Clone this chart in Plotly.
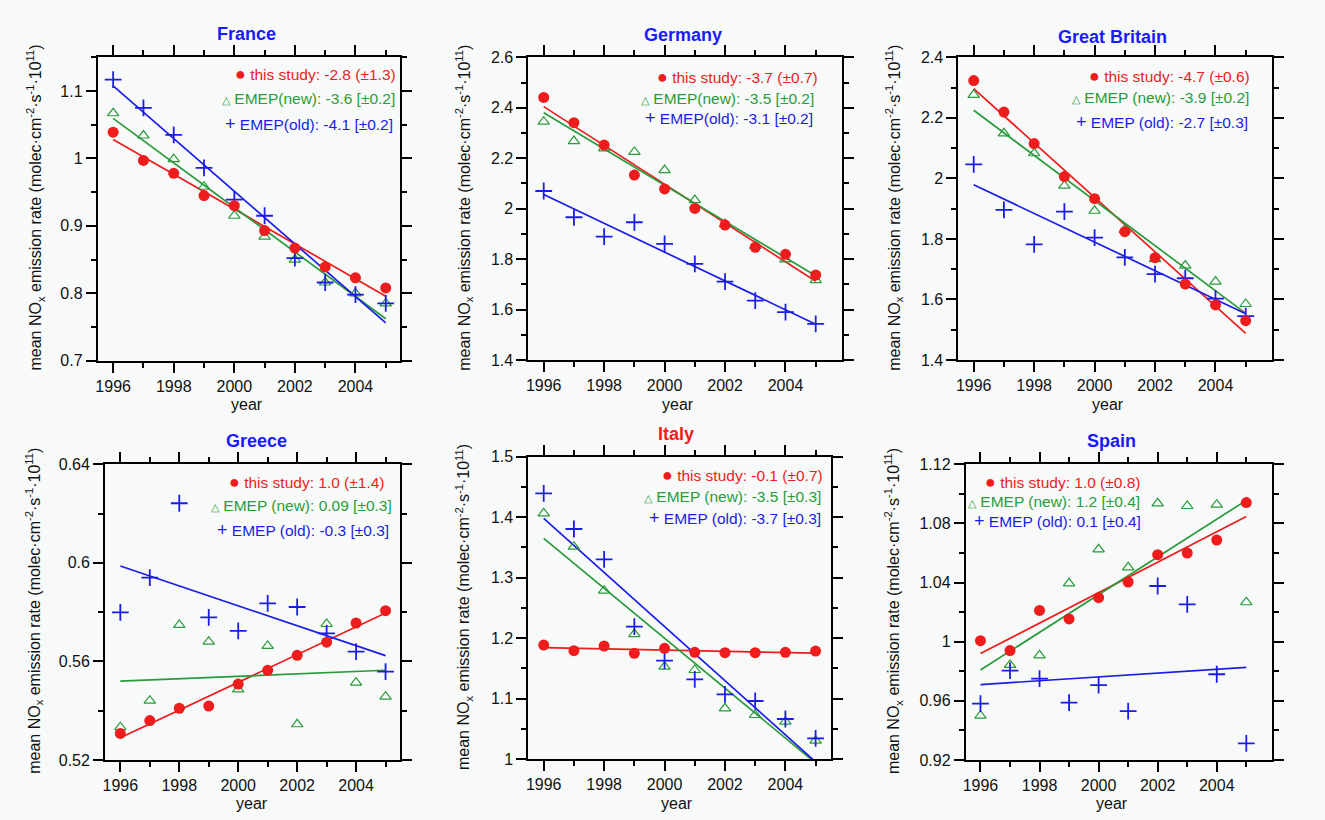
import numpy as np
import plotly.graph_objects as go

W, H = 1325, 820
years = list(range(1996, 2006))

# Mean NOx emission rates (molec cm-2 s-1 1e11), one list per data set
france_study = [1.039, 0.997, 0.978, 0.945, 0.930, 0.893, 0.867, 0.839, 0.823, 0.808]
france_emep_new = [1.067, 1.034, 0.999, 0.958, 0.915, 0.884, 0.850, 0.816, 0.800, 0.785]
france_emep_old = [1.117, 1.075, 1.035, 0.986, 0.939, 0.915, 0.852, 0.816, 0.798, 0.785]

germany_study = [2.441, 2.341, 2.252, 2.133, 2.078, 2.001, 1.935, 1.847, 1.819, 1.737]
germany_emep_new = [2.345, 2.268, 2.239, 2.225, 2.153, 2.034, 1.939, 1.852, 1.799, 1.717]
germany_emep_old = [2.070, 1.966, 1.889, 1.946, 1.860, 1.781, 1.711, 1.635, 1.590, 1.543]

britain_study = [2.323, 2.219, 2.115, 2.006, 1.933, 1.824, 1.738, 1.651, 1.582, 1.530]
britain_emep_new = [2.276, 2.149, 2.083, 1.976, 1.893, 1.830, 1.733, 1.712, 1.659, 1.585]
britain_emep_old = [2.046, 1.896, 1.782, 1.890, 1.804, 1.739, 1.684, 1.670, 1.603, 1.545]

greece_study = [0.5308, 0.5360, 0.5410, 0.5419, 0.5508, 0.5564, 0.5625, 0.5678, 0.5756, 0.5806]
greece_emep_new = [0.5333, 0.5441, 0.5748, 0.5680, 0.5487, 0.5663, 0.5345, 0.5752, 0.5514, 0.5457]
greece_emep_old = [0.5799, 0.5940, 0.6242, 0.5779, 0.5724, 0.5836, 0.5821, 0.5714, 0.5640, 0.5559]

italy_study = [1.1885, 1.1792, 1.1869, 1.1748, 1.1830, 1.1764, 1.1759, 1.1759, 1.1764, 1.1786]
italy_emep_new = [1.4063, 1.3512, 1.2784, 1.2067, 1.1527, 1.1472, 1.0838, 1.0728, 1.0617, 1.0303]
italy_emep_old = [1.4394, 1.3804, 1.3302, 1.2189, 1.1626, 1.1318, 1.1069, 1.0959, 1.0662, 1.0342]

spain_study = [1.0007, 0.9940, 1.0212, 1.0154, 1.0298, 1.0404, 1.0589, 1.0600, 1.0688, 1.0941]
spain_emep_new = [0.9500, 0.9843, 0.9908, 1.0395, 1.0625, 1.0503, 1.0936, 1.0918, 1.0927, 1.0267]
spain_emep_old = [0.9581, 0.9804, 0.9750, 0.9588, 0.9707, 0.9531, 1.0377, 1.0253, 0.9780, 0.9313]

# Trend labels (% per year)
france_labels = ["this study: -2.8 (±1.3)", "EMEP(new): -3.6 [±0.2]", "EMEP(old): -4.1 [±0.2]"]
germany_labels = ["this study: -3.7 (±0.7)", "EMEP(new): -3.5 [±0.2]", "EMEP(old): -3.1 [±0.2]"]
britain_labels = ["this study: -4.7 (±0.6)", "EMEP (new): -3.9 [±0.2]", "EMEP (old): -2.7 [±0.3]"]
greece_labels = ["this study: 1.0 (±1.4)", "EMEP (new): 0.09 [±0.3]", "EMEP (old): -0.3 [±0.3]"]
italy_labels = ["this study: -0.1 (±0.7)", "EMEP (new): -3.5 [±0.3]", "EMEP (old): -3.7 [±0.3]"]
spain_labels = ["this study: 1.0 (±0.8)", "EMEP (new): 1.2 [±0.4]", "EMEP (old): 0.1 [±0.4]"]

RED = "#ee1c1c"
GREEN = "#2a9a3c"
BLUE = "#1c1ce8"
TITLE_BLUE = "#1a1aff"
FONT = "Arial, Liberation Sans, Helvetica, sans-serif"

# name, data, labels, title colour, plot box in px (l, r, t, b), x range, y range, y major/minor
panels = [
    ("France", (france_study, france_emep_new, france_emep_old), france_labels, TITLE_BLUE,
     (97.7, 400.0, 57.3, 360.7), (1995.49, 2005.47), (0.7, 1.15), 0.1, 0.05),
    ("Germany", (germany_study, germany_emep_new, germany_emep_old), germany_labels, TITLE_BLUE,
     (528.3, 841.7, 57.3, 360.0), (1995.49, 2005.86), (1.4, 2.6), 0.2, 0.1),
    ("Great Britain", (britain_study, britain_emep_new, britain_emep_old), britain_labels, TITLE_BLUE,
     (958.3, 1271.7, 57.3, 360.0), (1995.49, 2005.86), (1.4, 2.4), 0.2, 0.1),
    ("Greece", (greece_study, greece_emep_new, greece_emep_old), greece_labels, TITLE_BLUE,
     (105.0, 400.0, 464.3, 760.0), (1995.48, 2005.49), (0.52, 0.64), 0.04, 0.02),
    ("Italy", (italy_study, italy_emep_new, italy_emep_old), italy_labels, RED,
     (528.3, 830.7, 456.7, 759.0), (1995.49, 2005.5), (1.0, 1.5), 0.1, 0.05),
    ("Spain", (spain_study, spain_emep_new, spain_emep_old), spain_labels, TITLE_BLUE,
     (965.7, 1271.7, 464.3, 760.0), (1995.5, 2005.86), (0.92, 1.12), 0.04, 0.02),
]

# text anchors in px: title (x, y), "year" (x, y), y-axis title (x, y)
text_pos = [
    ((246.3, 33.5), (246.7, 404.5), (35.0, 207.5)),
    ((682.7, 35.0), (678.0, 404.5), (463.3, 207.5)),
    ((1112.3, 36.5), (1108.0, 404.5), (893.3, 207.5)),
    ((256.7, 441.0), (251.7, 803.0), (33.3, 610.5)),
    ((675.7, 433.5), (677.3, 803.0), (463.3, 606.7)),
    ((1111.0, 441.0), (1111.7, 803.0), (893.3, 610.8)),
]

# legend rows: (right edge px, centre y px) for each of the three lines
legend_pos = [
    [(398.3, 74.0), (396.7, 98.0), (395.0, 124.0)],
    [(820.0, 76.7), (816.0, 98.3), (815.0, 118.3)],
    [(1251.7, 75.7), (1251.0, 97.7), (1250.0, 121.7)],
    [(387.0, 481.7), (394.0, 505.0), (391.0, 530.0)],
    [(825.0, 475.0), (823.3, 496.7), (823.3, 518.3)],
    [(1143.0, 481.7), (1142.0, 501.0), (1143.0, 521.0)],
]

series_style = [
    dict(color=RED, marker=dict(symbol="circle", size=11, color=RED, line=dict(width=0))),
    dict(color=GREEN, marker=dict(symbol="triangle-up-open", size=10, color=GREEN, line=dict(width=1.2, color=GREEN))),
    dict(color=BLUE, marker=dict(symbol="cross-thin-open", size=12, color=BLUE, line=dict(width=1.8, color=BLUE))),
]
legend_glyphs = [
    "<span style='font-size:18px'>●</span>",
    "<span style='font-size:11px'>△</span>",
    "<span style='font-size:18px'>+</span>",
]

ytitle = "mean NO<sub>x</sub> emission rate (molec·cm<sup>-2</sup>·s<sup>-1</sup>·10<sup>11</sup>)"

fig = go.Figure()
annotations = []


def px_x(v):
    return v / W


def px_y(v):
    return 1 - v / H


for i, (name, data, labels, tcolor, box, xr, yr, dy, dym) in enumerate(panels, start=1):
    l, r, t, b = box
    xa = "x" if i == 1 else f"x{i}"
    ya = "y" if i == 1 else f"y{i}"
    # regression lines first, then the points on top
    for k in (0, 1, 2):
        vals = np.array(data[k])
        slope, icpt = np.polyfit(years, vals, 1)
        fit = [slope * yv + icpt for yv in (years[0], years[-1])]
        fig.add_trace(go.Scatter(x=[years[0], years[-1]], y=fit, mode="lines",
                                 line=dict(color=series_style[k]["color"], width=1.7),
                                 xaxis=xa, yaxis=ya, showlegend=False, hoverinfo="skip"))
    for k in (1, 2, 0):
        fig.add_trace(go.Scatter(x=years, y=data[k], mode="markers",
                                 marker=series_style[k]["marker"],
                                 xaxis=xa, yaxis=ya, showlegend=False))

    axis_common = dict(showline=True, linecolor="black", linewidth=1.8, mirror="ticks",
                       ticks="outside", ticklen=10, tickwidth=1.5, tickcolor="black",
                       showgrid=False, zeroline=False, automargin=False,
                       tickfont=dict(family=FONT, size=16, color="#111111"))
    fig.update_layout(**{
        ("xaxis" if i == 1 else f"xaxis{i}"): dict(
            domain=[px_x(l), px_x(r)], range=list(xr), anchor=ya,
            tick0=1996, dtick=2,
            minor=dict(dtick=1, ticks="outside", ticklen=5, tickwidth=1.5, tickcolor="black"),
            **axis_common),
        ("yaxis" if i == 1 else f"yaxis{i}"): dict(
            domain=[px_y(b), px_y(t)], range=list(yr), anchor=xa,
            tick0=yr[0], dtick=dy,
            minor=dict(dtick=dym, ticks="outside", ticklen=5, tickwidth=1.5, tickcolor="black"),
            **axis_common),
    })

    (tx, ty), (yx, yy), (ax, ay) = text_pos[i - 1]
    annotations.append(dict(text=f"<b>{name}</b>", x=px_x(tx), y=px_y(ty),
                            xref="paper", yref="paper", showarrow=False,
                            xanchor="center", yanchor="middle",
                            font=dict(family=FONT, size=18, color=tcolor)))
    annotations.append(dict(text="year", x=px_x(yx), y=px_y(yy),
                            xref="paper", yref="paper", showarrow=False,
                            xanchor="center", yanchor="middle",
                            font=dict(family=FONT, size=16, color="#111111")))
    annotations.append(dict(text=ytitle, x=px_x(ax), y=px_y(ay),
                            xref="paper", yref="paper", showarrow=False, textangle=-90,
                            xanchor="center", yanchor="middle",
                            font=dict(family=FONT, size=16, color="#111111")))
    for k in range(3):
        rx, cy = legend_pos[i - 1][k]
        annotations.append(dict(text=f"{legend_glyphs[k]} {labels[k]}",
                                x=px_x(rx), y=px_y(cy), xref="paper", yref="paper",
                                showarrow=False, xanchor="right", yanchor="middle",
                                font=dict(family=FONT, size=15.5, color=series_style[k]["color"])))

fig.update_layout(width=W, height=H, margin=dict(l=0, r=0, t=0, b=0, pad=0),
                  paper_bgcolor="#f8faf9", plot_bgcolor="#f8faf9",
                  annotations=annotations, showlegend=False)

fig.write_html("out.html")
